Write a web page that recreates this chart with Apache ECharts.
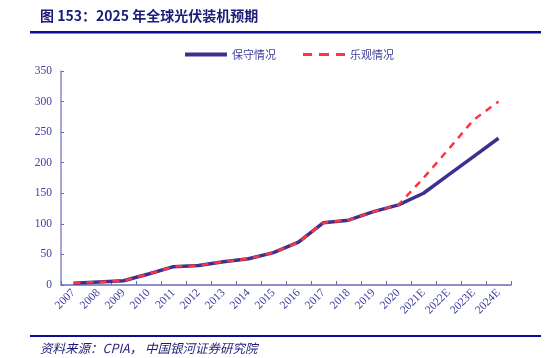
<!DOCTYPE html>
<html>
<head>
<meta charset="utf-8">
<script src="https://cdn.jsdelivr.net/npm/echarts@6/dist/echarts.min.js"></script>
<style>
html,body{margin:0;padding:0;background:#fff;}
#chart{width:550px;height:358px;}
</style>
</head>
<body>
<div id="chart"></div>
<script>
const categories = ['2007','2008','2009','2010','2011','2012','2013','2014','2015','2016','2017','2018','2019','2020','2021E','2022E','2023E','2024E'];
const conservative = [3, 5, 7, 18, 30, 32, 38, 43, 53, 70, 102, 106, 120, 131, 150, 180, 210, 240];
const optimistic   = [3, 5, 7, 18, 30, 32, 38, 43, 53, 70, 102, 106, 120, 131, 175, 222, 270, 300];
const yTicks = [0, 350, 50];
const titleText = '图 153：2025 年全球光伏装机预期';
const sourceText = '资料来源：CPIA， 中国银河证券研究院';

const axisText = '#3C3CA0';
const chart = echarts.init(document.getElementById('chart'));
chart.setOption({
  animation: false,
  backgroundColor: '#fff',
  grid: {left: 61, right: 39, top: 71, bottom: 73, containLabel: false},
  legend: {
    top: 44, left: 180,
    itemWidth: 42, itemHeight: 4, itemGap: 27,
    textStyle: {color: '#3C3C9C', fontSize: 11, fontFamily: 'Noto Sans CJK SC'},
    data: [
      {name: '保守情况', icon: 'path://M0,0 L42,0 L42,4 L0,4 Z'},
      {name: '乐观情况', icon: 'path://M0,0.5 L9,0.5 L9,3.5 L0,3.5 Z M16,0.5 L26,0.5 L26,3.5 L16,3.5 Z M33,0.5 L42,0.5 L42,3.5 L33,3.5 Z'}
    ]
  },
  xAxis: {
    type: 'category',
    data: categories,
    boundaryGap: true,
    axisLine: {lineStyle: {color: '#6A6AB8', width: 1.5}},
    axisTick: {show: true, inside: true, length: 4, alignWithLabel: false, lineStyle: {color: '#6A6AB8'}},
    axisLabel: {rotate: 45, interval: 0, color: axisText, fontSize: 11.5, fontFamily: 'Liberation Serif', margin: 6}
  },
  yAxis: {
    type: 'value',
    min: yTicks[0], max: yTicks[1], interval: yTicks[2],
    splitLine: {show: false},
    axisLine: {show: true, lineStyle: {color: '#8A8AC8', width: 1.5}},
    axisTick: {show: true, inside: true, length: 3, lineStyle: {color: '#6A6AB8'}},
    axisLabel: {color: axisText, fontSize: 11.5, fontFamily: 'Liberation Serif', margin: 9}
  },
  series: [
    {
      name: '保守情况', type: 'line', data: conservative, symbol: 'none',
      lineStyle: {color: '#3A3190', width: 3.5},
      itemStyle: {color: '#3A3190'}, z: 2
    },
    {
      name: '乐观情况', type: 'line', data: optimistic, symbol: 'none',
      lineStyle: {color: '#FF3440', width: 2.5, type: [7, 6]},
      itemStyle: {color: '#FF3440'}, z: 3
    }
  ],
  graphic: [
    {type: 'text', left: 40, top: 9, style: {text: titleText, fill: '#1C1C78', font: 'bold 14px "Noto Sans CJK SC", sans-serif'}},
    {type: 'rect', shape: {x: 30, y: 31, width: 511, height: 2.5}, style: {fill: '#0C0C96'}},
    {type: 'rect', shape: {x: 30, y: 335, width: 511, height: 2}, style: {fill: '#0C0C96'}},
    {type: 'text', left: 40, top: 342, style: {text: sourceText, fill: '#1C1C78', font: 'italic 12.5px "Noto Sans CJK SC", serif'}}
  ]
});
</script>
</body>
</html>
